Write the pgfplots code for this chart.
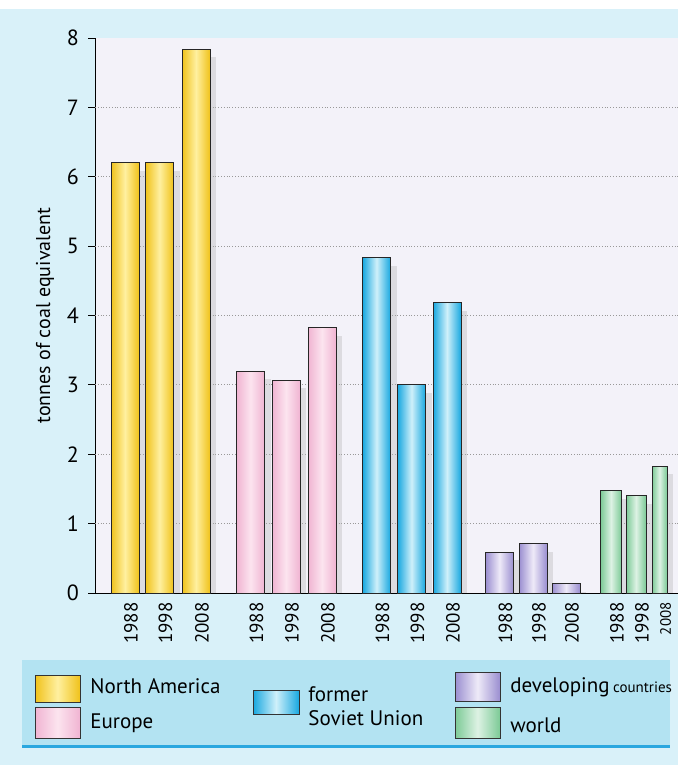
\documentclass[border=0pt]{standalone}
\usepackage{pgfplots}
\usepackage{pgfplotstable}
\pgfplotsset{compat=1.18}
\usepackage{fontspec}
\setmainfont{PT Sans}

\definecolor{bgblue}{HTML}{D9F1F9}
\definecolor{plotbg}{HTML}{F3F2F9}
\definecolor{legfill}{HTML}{B3E3F2}
\definecolor{legline}{HTML}{2AA7DF}
\definecolor{yelE}{HTML}{F0C21A}\definecolor{yelC}{HTML}{FFF0A0}
\definecolor{pinE}{HTML}{F0B4D2}\definecolor{pinC}{HTML}{FCE4EF}
\definecolor{cyaE}{HTML}{18A8E0}\definecolor{cyaC}{HTML}{CFF0FA}
\definecolor{purE}{HTML}{9A8ED0}\definecolor{purC}{HTML}{EEEAF8}
\definecolor{greE}{HTML}{7CCA96}\definecolor{greC}{HTML}{DDF2E4}

\tikzset{
  barshade/.style 2 args={left color=#1, right color=#1, middle color=#2, draw=black!85, line width=0.5pt},
  swatch/.style 2 args={left color=#1, right color=#1, middle color=#2, draw=black!80, line width=0.5pt},
}

% one bar with its drop shadow: {x = bar centre (pixel position)}{tonnes of coal equivalent}{bar width}{edge colour}{centre colour}
\newcommand\shadedbar[5]{%
  \addplot[ybar, bar width=#3, bar shift=0pt, fill=black!30, fill opacity=0.35, draw=none]
    table[row sep=\\, x expr=\thisrow{x}+6, y expr=\thisrow{y}-0.12] {x y\\ #1 #2\\};
  \addplot[ybar, bar width=#3, bar shift=0pt, barshade={#4}{#5}]
    table[row sep=\\] {x y\\ #1 #2\\};
}

\begin{document}
\begin{tikzpicture}
\begin{scope}[x=0.5pt,y=-0.5pt]
  \fill[bgblue] (0,0) rectangle (678,765);
  \fill[white] (0,0) rectangle (678,9);
\end{scope}

\begin{axis}[
  at={(47.5pt,-296.5pt)}, anchor=south west,
  scale only axis, width=291.5pt, height=277.5pt,
  xmin=95, xmax=678, ymin=0, ymax=8,
  axis x line*=bottom, axis y line*=left,
  axis line style={black, line width=0.5pt, -},
  axis background/.style={fill=plotbg},
  ytick={0,...,8},
  tick align=outside, major tick length=3.5pt,
  ytick style={black, line width=0.4pt},
  extra y ticks={1,...,7}, extra y tick labels={},
  extra y tick style={grid=major, major tick length=0pt},
  grid style={densely dotted, black!40, line width=0.5pt},
  xtick={125,159.5,196,250.5,286,322,376.5,411.5,447,499.5,533,566,611,636,659.5},
  xticklabels={\mbox{1988},\mbox{1998},\mbox{2008},\mbox{1988},\mbox{1998},\mbox{2008},\mbox{1988},\mbox{1998},\mbox{2008},\mbox{1988},\mbox{1998},\mbox{2008},\mbox{1988},\mbox{1998},\mbox{\fontsize{7.5}{8}\selectfont 2008}},
  xtick style={draw=none},
  x tick label style={rotate=90, anchor=east, font=\fontsize{9.5}{10}\selectfont, inner sep=1pt, yshift=-3pt},
  y tick label style={font=\fontsize{11}{12}\selectfont, xshift=-1pt},
  /pgf/number format/assume math mode=true,
  ylabel={tonnes of coal equivalent},
  every axis y label/.style={at={(axis description cs:0,0.5)}, xshift=-25pt, rotate=90, anchor=center, font=\fontsize{10}{12}\selectfont},
  clip=false,
]
% North America
\shadedbar{125}{6.21}{28}{yelE}{yelC}
\shadedbar{159.5}{6.20}{28}{yelE}{yelC}
\shadedbar{196}{7.84}{28}{yelE}{yelC}
% Europe
\shadedbar{250.5}{3.20}{28}{pinE}{pinC}
\shadedbar{286}{3.07}{28}{pinE}{pinC}
\shadedbar{322}{3.82}{28}{pinE}{pinC}
% former Soviet Union
\shadedbar{376.5}{4.83}{28}{cyaE}{cyaC}
\shadedbar{411.5}{3.00}{28}{cyaE}{cyaC}
\shadedbar{447}{4.19}{28}{cyaE}{cyaC}
% developing countries
\shadedbar{499.5}{0.59}{28}{purE}{purC}
\shadedbar{533}{0.71}{28}{purE}{purC}
\shadedbar{566}{0.14}{28}{purE}{purC}
% world
\shadedbar{611}{1.48}{21}{greE}{greC}
\shadedbar{636}{1.40}{20}{greE}{greC}
\shadedbar{659.5}{1.83}{15}{greE}{greC}
\end{axis}

\begin{scope}[x=0.5pt,y=-0.5pt]
  \fill[legfill] (22,660) rectangle (670,747);
  \draw[legline, line width=1.5pt] (22,746) -- (670,746);
  \draw[swatch={yelE}{yelC}] (35,675) rectangle (80,702);
  \draw[swatch={pinE}{pinC}] (35,707) rectangle (80,738);
  \draw[swatch={cyaE}{cyaC}] (253,690) rectangle (299,714);
  \draw[swatch={purE}{purC}] (455,672) rectangle (500,701);
  \draw[swatch={greE}{greC}] (455,707) rectangle (500,738);
  \begin{scope}[every node/.style={anchor=west, inner sep=0pt, font=\fontsize{10.5}{12}\selectfont}]
    \node at (90,686) {North America};
    \node at (90,723) {Europe};
    \node at (308,694) {former};
    \node at (308,718) {Soviet Union};
    \node at (510,687) {developing\,{\fontsize{7.5}{9}\selectfont countries}};
    \node at (510,725) {world};
  \end{scope}
\end{scope}
\end{tikzpicture}
\end{document}
